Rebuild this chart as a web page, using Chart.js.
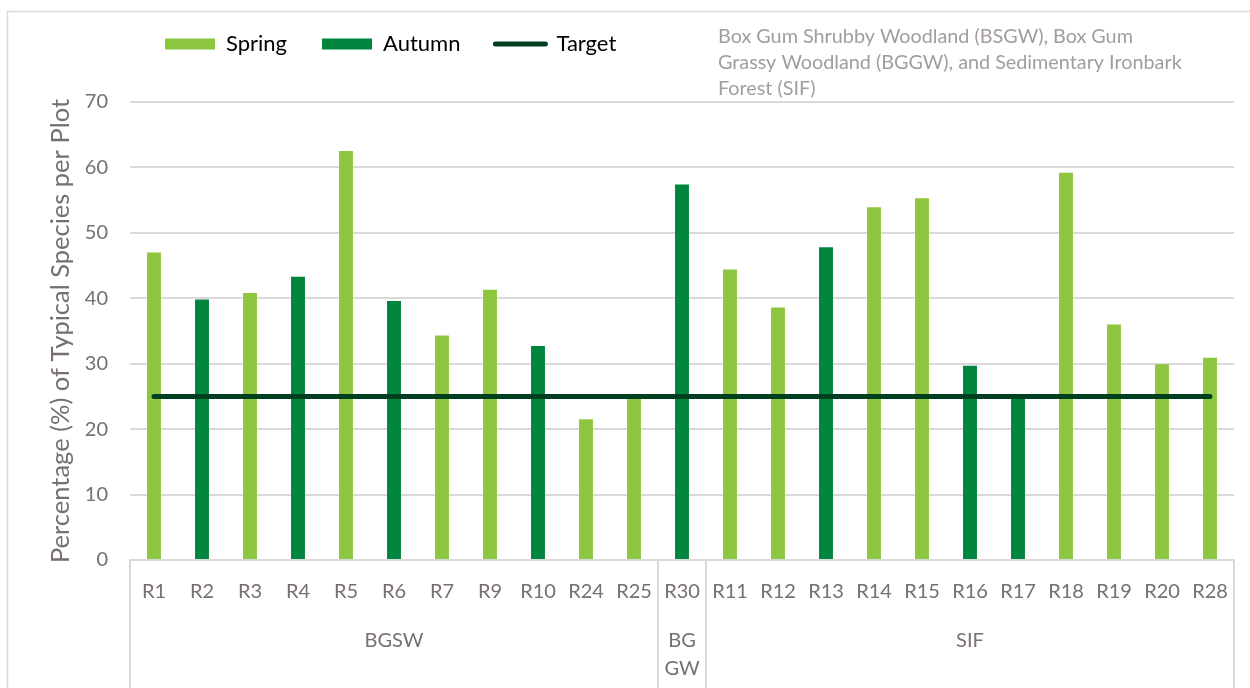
<!DOCTYPE html>
<html>
<head>
<meta charset="utf-8">
<script src="https://cdn.jsdelivr.net/npm/chart.js@4.4.1/dist/chart.umd.min.js"></script>
<style>
  html, body { margin: 0; padding: 0; background: #fff; }
  #wrap { position: relative; width: 1250px; height: 688px; }
</style>
</head>
<body>
<div id="wrap"><canvas id="plotChart"></canvas></div>
<script>
// plots, in the order they appear on the axis
const categories = ['R1', 'R2', 'R3', 'R4', 'R5', 'R6', 'R7', 'R9', 'R10', 'R24', 'R25',
  'R30',
  'R11', 'R12', 'R13', 'R14', 'R15', 'R16', 'R17', 'R18', 'R19', 'R20', 'R28'];

// vegetation community groups under the plot labels
const groupNames = ['BGSW', ['BG', 'GW'], 'SIF'];
const groupSizes = [11, 1, 11];

const springValues = [47.0, null, 40.8, null, 62.5, null, 34.3, 41.3, null, 21.5, 24.7,
  null,
  44.4, 38.6, null, 53.9, 55.3, null, null, 59.2, 36.0, 29.9, 30.9];
const autumnValues = [null, 39.8, null, 43.3, null, 39.6, null, null, 32.7, null, null,
  57.4,
  null, null, 47.8, null, null, 29.7, 24.8, null, null, null, null];
const targetValues = [25, 25, 25, 25, 25, 25, 25, 25, 25, 25, 25,
  25,
  25, 25, 25, 25, 25, 25, 25, 25, 25, 25, 25];

const yTicks = [0, 10, 20, 30, 40, 50, 60, 70];

const noteLines = [
  'Box Gum Shrubby Woodland (BSGW), Box Gum',
  'Grassy Woodland (BGGW), and Sedimentary Ironbark',
  'Forest (SIF)'
];

const textColor = '#776f6f';
const gridColor = '#dcd8d8';
const fontFamily = 'Lato, "Open Sans", sans-serif';

Chart.defaults.font.family = fontFamily;
Chart.defaults.color = textColor;

// outer chart frame (Excel style)
const frame = {
  id: 'frame',
  beforeDraw(chart) {
    const ctx = chart.ctx;
    ctx.save();
    ctx.strokeStyle = gridColor;
    ctx.lineWidth = 1.5;
    ctx.strokeRect(7.5, 11.5, chart.width + 20, chart.height + 20);
    ctx.restore();
  }
};

// legend row sits near the top frame, not right on top of the plot
const legendRow = {
  id: 'legendRow',
  afterLayout(chart) {
    const lg = chart.legend;
    if (!lg) return;
    const h = lg.bottom - lg.top;
    lg.top = -2;
    lg.bottom = lg.top + h;
  }
};

// the note text box in the top right
const noteBox = {
  id: 'noteBox',
  afterDraw(chart) {
    const ctx = chart.ctx;
    ctx.save();
    ctx.fillStyle = '#a39c9c';
    ctx.font = '19.8px ' + fontFamily;
    ctx.textAlign = 'left';
    ctx.textBaseline = 'middle';
    noteLines.forEach((t, i) => ctx.fillText(t, 718, 37 + i * 26));
    ctx.restore();
  }
};

// second level of the category axis: group names and separators
const groupAxis = {
  id: 'groupAxis',
  afterDraw(chart) {
    const { ctx, chartArea } = chart;
    const x = chart.scales.x;
    const half = (x.getPixelForValue(1) - x.getPixelForValue(0)) / 2;
    ctx.save();
    ctx.strokeStyle = gridColor;
    ctx.lineWidth = 2;
    ctx.fillStyle = textColor;
    ctx.font = '20px ' + fontFamily;
    ctx.textAlign = 'center';
    ctx.textBaseline = 'middle';
    const edges = [chartArea.left];
    let start = 0;
    groupSizes.forEach((n, g) => {
      const left = x.getPixelForValue(start) - half;
      const right = x.getPixelForValue(start + n - 1) + half;
      [].concat(groupNames[g]).forEach((t, k) => {
        ctx.fillText(t, (left + right) / 2, chartArea.bottom + 81 + k * 28);
      });
      edges.push(right);
      start += n;
    });
    edges.forEach(px => {
      ctx.beginPath();
      ctx.moveTo(px, chartArea.bottom);
      ctx.lineTo(px, chart.height);
      ctx.stroke();
    });
    ctx.restore();
  }
};

new Chart(document.getElementById('plotChart'), {
  data: {
    labels: categories,
    datasets: [
      {
        type: 'bar',
        label: 'Spring',
        data: springValues,
        backgroundColor: '#8dc63f',
        grouped: false,
        categoryPercentage: 1,
        barPercentage: 0.29,
        order: 1
      },
      {
        type: 'bar',
        label: 'Autumn',
        data: autumnValues,
        backgroundColor: '#00853e',
        grouped: false,
        categoryPercentage: 1,
        barPercentage: 0.29,
        order: 1
      },
      {
        type: 'line',
        label: 'Target',
        data: targetValues,
        borderColor: '#003f1f',
        backgroundColor: '#003f1f',
        borderWidth: 5,
        borderCapStyle: 'round',
        pointRadius: 0,
        fill: false,
        order: 0
      }
    ]
  },
  options: {
    responsive: true,
    maintainAspectRatio: false,
    animation: false,
    layout: { padding: { top: 0, left: 0, right: 16, bottom: 0 } },
    plugins: {
      tooltip: { enabled: false },
      legend: {
        position: 'top',
        align: 'start',
        fullSize: false,
        labels: {
          usePointStyle: true,
          pointStyleWidth: 50,
          boxHeight: 11,
          padding: 35,
          color: textColor,
          font: { size: 22 },
          generateLabels(chart) {
            return chart.data.datasets.map((ds, i) => ({
              text: ds.label,
              fillStyle: ds.backgroundColor,
              strokeStyle: ds.borderColor || ds.backgroundColor,
              lineWidth: ds.type === 'line' ? 5 : 0,
              lineCap: 'round',
              pointStyle: ds.type === 'line' ? 'line' : 'rect',
              datasetIndex: i,
              hidden: !chart.isDatasetVisible(i)
            }));
          }
        }
      }
    },
    scales: {
      x: {
        offset: true,
        grid: { display: false, drawTicks: false },
        border: { display: true, color: gridColor, width: 2 },
        ticks: { padding: 20, color: textColor, font: { size: 20 }, maxRotation: 0, autoSkip: false },
        afterFit(scale) { scale.height = 128; }
      },
      y: {
        min: 0,
        max: 70,
        afterBuildTicks(scale) { scale.ticks = yTicks.map(v => ({ value: v })); },
        grid: { color: gridColor, lineWidth: 2, drawTicks: false },
        border: { display: false },
        ticks: { padding: 22, color: textColor, font: { size: 20 } },
        title: {
          display: true,
          text: 'Percentage (%) of Typical Species per Plot',
          color: textColor,
          font: { size: 25.5 },
          padding: { top: 45, bottom: 0 }
        },
        afterFit(scale) {
          scale.width = 130;
          // keep the plot area top clear of the legend row
          scale.paddingTop = 102;
        }
      }
    }
  },
  plugins: [frame, legendRow, noteBox, groupAxis]
});
</script>
</body>
</html>
